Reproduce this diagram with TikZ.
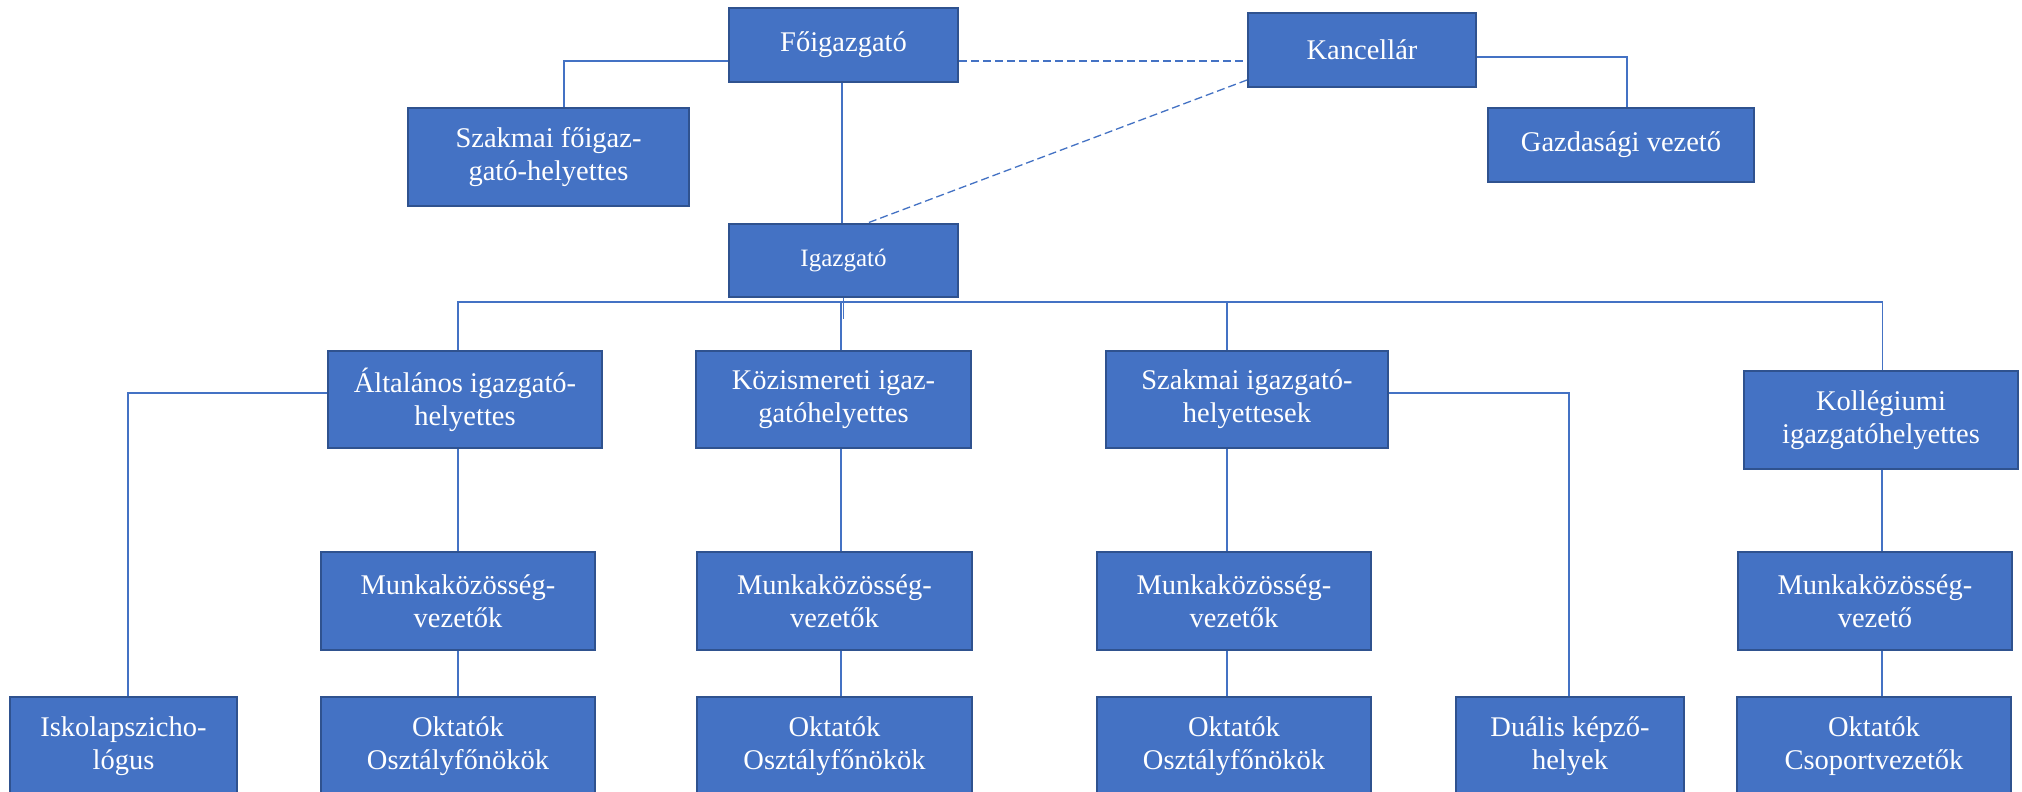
\documentclass[tikz,border=0pt]{standalone}
\usepackage{fontspec}
\setmainfont{Liberation Serif}
\definecolor{boxfill}{HTML}{4472C4}
\definecolor{boxline}{HTML}{2F528F}
\definecolor{conn}{HTML}{4472C4}
\begin{document}
\begin{tikzpicture}[x=1pt,y=-1pt,
  box/.style={draw=boxline, fill=boxfill, line width=2pt, text=white, align=center,
    inner sep=0pt, font=\fontsize{28.5}{33}\selectfont},
  link/.style={draw=conn, line width=1.3pt},
  dlink/.style={draw=conn, line width=1.3pt, dash pattern=on 8pt off 4pt}]
\useasboundingbox (0,0) rectangle (2022,792);
\clip (0,0) rectangle (2022,792);
\fill[white] (0,0) rectangle (2022,792);
% top
\node[box, minimum width=229pt, minimum height=74pt] (foi) at (843.5,45) {Főigazgató};
\node[box, minimum width=228pt, minimum height=74pt] (kanc) at (1362,50) {Kancellár};
\node[box, minimum width=281pt, minimum height=98pt] (szfh) at (548.5,157) {Szakmai főigaz-\\gató-helyettes};
\node[box, minimum width=266pt, minimum height=74pt] (gazd) at (1621,145) {Gazdasági vezető};
\node[box, minimum width=229pt, minimum height=73pt, font=\fontsize{25}{29}\selectfont] (igaz) at (843.5,260.5) {Igazgató};
% level 2
\node[box, minimum width=274pt, minimum height=97pt] (alt) at (465,399.5) {Általános igazgató-\\helyettes};
\node[box, minimum width=275pt, minimum height=97pt] (koz) at (833.5,399.5) {Közismereti igaz-\\gatóhelyettes};
\node[box, minimum width=282pt, minimum height=97pt] (szih) at (1247,399.5) {Szakmai igazgató-\\helyettesek};
\node[box, minimum width=274pt, minimum height=98pt] (koll) at (1881,420) {Kollégiumi\\igazgatóhelyettes};
% level 3
\node[box, minimum width=274pt, minimum height=98pt] (mk1) at (458,601) {Munkaközösség-\\vezetők};
\node[box, minimum width=275pt, minimum height=98pt] (mk2) at (834.5,601) {Munkaközösség-\\vezetők};
\node[box, minimum width=274pt, minimum height=98pt] (mk3) at (1234,601) {Munkaközösség-\\vezetők};
\node[box, minimum width=274pt, minimum height=98pt] (mk4) at (1875,601) {Munkaközösség-\\vezető};
% level 4
\node[box, minimum width=227pt, minimum height=98pt] (isk) at (123.5,746) {Iskolapszicho-\\lógus};
\node[box, minimum width=274pt, minimum height=98pt] (ok1) at (458,746) {Oktatók\\Osztályfőnökök};
\node[box, minimum width=275pt, minimum height=98pt] (ok2) at (834.5,746) {Oktatók\\Osztályfőnökök};
\node[box, minimum width=274pt, minimum height=98pt] (ok3) at (1234,746) {Oktatók\\Osztályfőnökök};
\node[box, minimum width=228pt, minimum height=98pt] (dual) at (1570,746) {Duális képző-\\helyek};
\node[box, minimum width=274pt, minimum height=98pt] (ok4) at (1874,746) {Oktatók\\Csoportvezetők};
\coordinate (bus) at (0,302);
% connectors top
\draw[link] ([yshift=-16pt]foi.west) -| ([xshift=15.5pt]szfh.north);
\draw[link] ([yshift=-7pt]kanc.east) -| ([xshift=6pt]gazd.north);
\draw[dlink] ([yshift=-16pt]foi.east) -- ([yshift=-16pt]foi.east -| kanc.west);
\draw[dlink] ([yshift=8pt]kanc.south west) -- ([xshift=24pt]igaz.north);
\draw[link] ([xshift=-1.5pt]foi.south) -- ([xshift=-1.5pt]igaz.north);
% bus
\draw[link] (igaz.south) -- ++(0,21);
\draw[link] ([xshift=7.5pt]koz.north) -- ([xshift=7.5pt]koz.north |- bus);
\draw[link] ([xshift=-7pt]alt.north) |- ([xshift=1.5pt]koll.north |- bus) -- ([xshift=1.5pt]koll.north);
\draw[link] ([xshift=-20pt]szih.north) -- ([xshift=-20pt]szih.north |- bus);
% level 2 down
\draw[link] ([yshift=6.5pt]alt.west) -| ([xshift=4.5pt]isk.north);
\draw[link] (mk1.north |- alt.south) -- (mk1.north);
\draw[link] (mk1) -- (ok1);
\draw[link] ([xshift=7.5pt]koz.south) -- ([xshift=7.5pt]koz.south |- mk2.north);
\draw[link] ([xshift=6.5pt]mk2.south) -- ([xshift=6.5pt]ok2.north);
\draw[link] ([xshift=-20pt]szih.south) -- ([xshift=-20pt]szih.south |- mk3.north);
\draw[link] ([xshift=-7pt]mk3.south) -- ([xshift=-7pt]ok3.north);
\draw[link] ([yshift=6.5pt]szih.east) -| ([xshift=-1pt]dual.north);
\draw[link] ([xshift=1pt]koll.south) -- ([xshift=1pt]koll.south |- mk4.north);
\draw[link] ([xshift=7pt]mk4.south) -- ([xshift=7pt]mk4.south |- ok4.north);
\end{tikzpicture}
\end{document}
